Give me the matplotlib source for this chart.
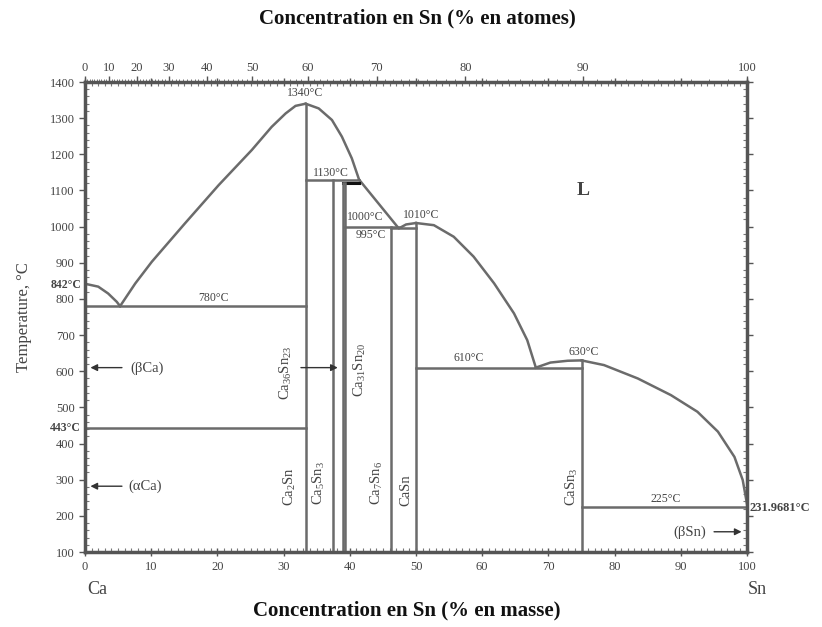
import numpy as np
import matplotlib
matplotlib.use('Agg')
import matplotlib.pyplot as plt
from matplotlib.ticker import MultipleLocator, FixedLocator

plt.rcParams['font.family'] = ['Liberation Serif', 'DejaVu Serif']
plt.rcParams['mathtext.fontset'] = 'custom'
plt.rcParams['mathtext.rm'] = 'Liberation Serif'
plt.rcParams['mathtext.it'] = 'Liberation Serif'

# liquidus pieces (x in at.% Sn, T in degC)
liq_ca_x = [0, 2.0, 3.5, 4.8, 5.3]
liq_ca_t = [842, 834, 815, 792, 780]
liq_a_x = [5.3, 7.6, 10.1, 15.1, 20.2, 25.2, 28.2, 30.3, 31.8, 33.33]
liq_a_t = [780, 843, 903, 1009, 1115, 1212, 1276, 1313, 1334, 1340]
liq_b_x = [33.33, 35.3, 37.3, 38.8, 40.3, 41.4]
liq_b_t = [1340, 1327, 1295, 1249, 1189, 1130]
liq_c_x = [41.4, 47.4, 48.5, 50]
liq_c_t = [1130, 995, 1006, 1010]
liq_d_x = [50, 52.7, 55.7, 58.7, 61.8, 64.8, 66.8, 68.1]
liq_d_t = [1010, 1004, 972, 917, 843, 760, 686, 610]
liq_e_x = [68.1, 70.3, 72.9, 75]
liq_e_t = [610, 624, 629, 630]
liq_sn_x = [75, 78.4, 83.5, 88.5, 92.5, 95.6, 98.1, 99.35, 100]
liq_sn_t = [630, 617, 580, 534, 488, 433, 363, 299, 232]

# invariant lines
iso_t = [780, 443, 1130, 1000, 995, 610, 225]
iso_x0 = [0, 0, 33.33, 39.2, 46.15, 50, 75]
iso_x1 = [33.33, 33.33, 41.4, 47.4, 50, 75, 100]

# compounds
comp_x = [33.33, 37.5, 38.98, 39.22, 46.15, 50, 75]
comp_top = [1340, 1130, 1122, 1122, 1000, 1010, 630]

wt_ticks = [0, 10, 20, 30, 40, 50, 60, 70, 80, 90, 100]
M_SN, M_CA = 118.71, 40.078


def at_to_wt(a):
    a = np.asarray(a, dtype=float)
    return 100 * a * M_SN / (a * M_SN + (100 - a) * M_CA)


def wt_to_at(w):
    w = np.asarray(w, dtype=float)
    return 100 * (w / M_SN) / (w / M_SN + (100 - w) / M_CA)


LC = '#6b6b6b'
TC = '#444444'

fig = plt.figure(figsize=(8.22, 6.27), dpi=100)
ax = fig.add_axes([0.1034, 0.1196, 0.8054, 0.7496])
ax.set_xlim(0, 100)
ax.set_ylim(100, 1400)

for xs, ts in [(liq_ca_x, liq_ca_t), (liq_a_x, liq_a_t), (liq_b_x, liq_b_t),
               (liq_c_x, liq_c_t), (liq_d_x, liq_d_t), (liq_e_x, liq_e_t),
               (liq_sn_x, liq_sn_t)]:
    ax.plot(xs, ts, color=LC, lw=1.8, solid_joinstyle='round')

for t, x0, x1 in zip(iso_t, iso_x0, iso_x1):
    ax.plot([x0, x1], [t, t], color=LC, lw=1.8)
ax.plot([39.0, 41.4], [1122, 1122], color='#111111', lw=2.2)

for x, top in zip(comp_x, comp_top):
    ax.plot([x, x], [100, top], color=LC, lw=1.8)

# spines / ticks
for s in ax.spines.values():
    s.set_color('#555555')
    s.set_linewidth(2.5)
ax.xaxis.set_major_locator(MultipleLocator(10))
ax.xaxis.set_minor_locator(MultipleLocator(1))
ax.yaxis.set_major_locator(MultipleLocator(100))
ax.yaxis.set_minor_locator(MultipleLocator(20))
ax.tick_params(which='major', direction='inout', length=6, width=1, color='#555555',
               labelsize=9, labelcolor=TC, top=True, right=True)
ax.tick_params(which='minor', direction='in', length=3, width=0.8, color='#777777',
               top=True, right=True)
ax.tick_params(axis='y', which='major', direction='out', length=4)

sec = ax.secondary_xaxis('top', functions=(at_to_wt, wt_to_at))
sec.xaxis.set_major_locator(FixedLocator(wt_ticks))
sec.xaxis.set_minor_locator(FixedLocator(np.arange(0, 101, 1)))
sec.tick_params(which='major', direction='out', length=4, width=1, color='#555555',
                labelsize=9, labelcolor=TC, pad=2)
sec.tick_params(which='minor', direction='out', length=2, width=0.7, color='#777777')
sec.spines['top'].set_visible(False)

# labels
fs = 8.5
def lab(x, y, s, **kw):
    kw.setdefault('ha', 'center')
    kw.setdefault('va', 'center')
    kw.setdefault('fontsize', fs)
    kw.setdefault('color', TC)
    ax.text(x, y, s, **kw)

lab(33.3, 1370, '1340°C')
lab(37.1, 1148, '1130°C')
lab(42.4, 1027, '1000°C')
lab(43.1, 977, '995°C')
lab(50.7, 1032, '1010°C')
lab(19.4, 802, '780°C')
lab(58.0, 636, '610°C')
lab(75.4, 654, '630°C')
lab(87.7, 248, '225°C')
lab(-0.6, 838, '842°C', ha='right', fontweight='bold', clip_on=False)
lab(-0.6, 443, '443°C', ha='right', fontweight='bold', clip_on=False)
lab(100.4, 222, '231.9681°C', ha='left', fontweight='bold', fontsize=9, clip_on=False)
lab(75.3, 1101, 'L', fontsize=14, fontweight='bold')

rot = dict(rotation=90, fontsize=10.5)
lab(31.0, 280, 'Ca$_2$Sn', **rot)
lab(35.3, 291, 'Ca$_5$Sn$_3$', **rot)
lab(44.1, 291, 'Ca$_7$Sn$_6$', **rot)
lab(48.4, 271, 'CaSn', **rot)
lab(73.6, 280, 'CaSn$_3$', **rot)
lab(30.3, 595, 'Ca$_{36}$Sn$_{23}$', **rot)
lab(41.6, 603, 'Ca$_{31}$Sn$_{20}$', **rot)

arr = dict(arrowstyle='-|>', color='#333333', lw=1, mutation_scale=10)
ax.annotate('', xy=(38.6, 610), xytext=(32.2, 610), arrowprops=arr)
ax.annotate('', xy=(0.4, 610), xytext=(6.0, 610), arrowprops=arr)
lab(6.8, 609, '(βCa)', ha='left', fontsize=10.5)
ax.annotate('', xy=(0.4, 282), xytext=(6.0, 282), arrowprops=arr)
lab(6.5, 282, '(αCa)', ha='left', fontsize=10.5)
ax.annotate('', xy=(99.6, 156), xytext=(94.6, 156), arrowprops=arr)
lab(93.8, 156, '(βSn)', ha='right', fontsize=10.5)

ax.set_ylabel('Temperature, °C', fontsize=12, color=TC)
ax.yaxis.set_label_coords(-0.08, 0.5)

fig.text(97 / 822, 1 - 590 / 627, 'Ca', ha='center', va='center', fontsize=13, color=TC)
fig.text(757 / 822, 1 - 590 / 627, 'Sn', ha='center', va='center', fontsize=13, color=TC)
fig.text(417 / 822, 1 - 18 / 627, 'Concentration en Sn (% en atomes)', ha='center',
         va='center', fontsize=15, fontweight='bold', color='#111111')
fig.text(407 / 822, 1 - 610 / 627, 'Concentration en Sn (% en masse)', ha='center',
         va='center', fontsize=15, fontweight='bold', color='#111111')

fig.savefig('out.png', dpi=100)
